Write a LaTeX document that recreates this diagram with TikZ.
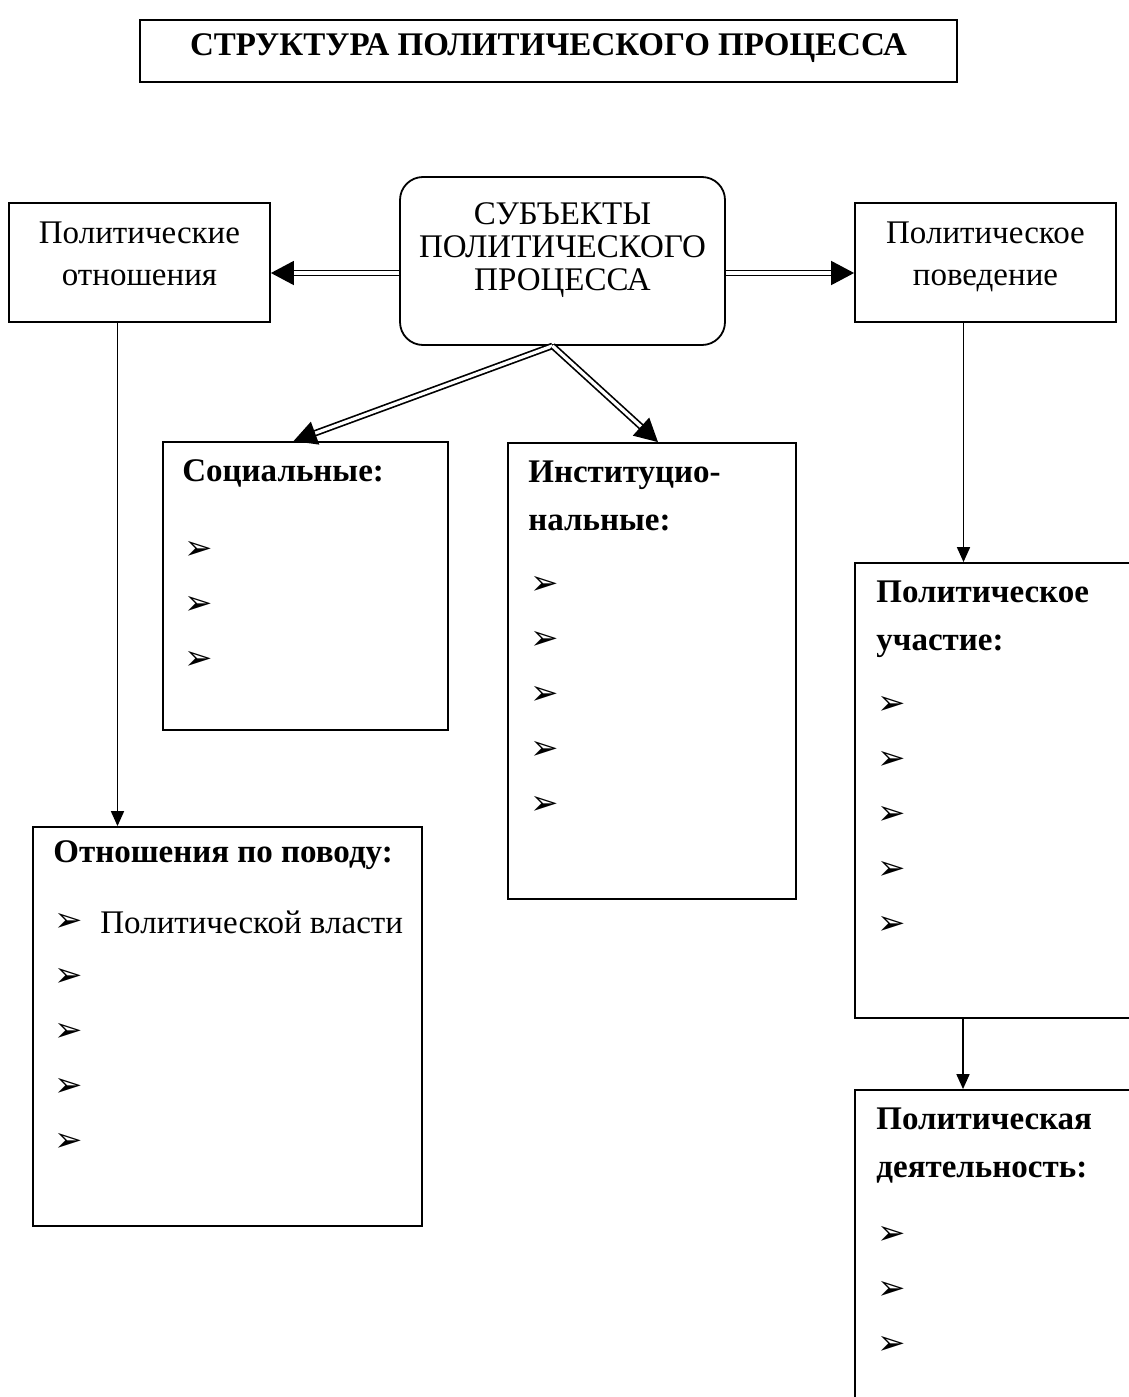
\documentclass[tikz,border=0pt]{standalone}
\usepackage{fontspec}
\setmainfont{Liberation Serif}
\newfontfamily\bulletfont{DejaVu Sans}
\usetikzlibrary{arrows.meta}
\newcommand{\bul}{{\bulletfont\fontsize{17}{17}\selectfont ➢}}

\begin{document}
\begin{tikzpicture}[
  x=0.5pt, y=-0.5pt,
  font=\fontsize{16.5}{21}\selectfont,
  box/.style={draw, line width=0.9pt, inner sep=0pt, align=center},
  head/.style={anchor=west, align=left, inner sep=0pt,
               font=\fontsize{16.5}{24}\selectfont\bfseries},
  item/.style={anchor=west, inner sep=0pt},
  arr/.style={-{Triangle[length=7.5pt, width=6.5pt]}, line width=0.85pt},
  dbl/.style={double, double distance=1.6pt, line width=0.85pt,
              -{Triangle[length=11.5pt, width=12pt]}},
]
\clip (0,0) rectangle (1129,1397);

% ---- title and top row ------------------------------------------
\node[box, minimum width=408.5pt, minimum height=31pt, text depth=6pt,
      font=\fontsize{16.5}{21}\selectfont\bfseries]
  (title) at (548.5,51) {СТРУКТУРА ПОЛИТИЧЕСКОГО ПРОЦЕССА};
\node[box, minimum width=130.5pt, minimum height=59.5pt, text depth=9pt] (rel) at (139.5,262.5) {Политические\\отношения};
\node[box, minimum width=130.5pt, minimum height=59.5pt, text depth=9pt] (beh) at (985.5,262.5) {Политическое\\поведение};
\node[box, rounded corners=11.5pt, minimum width=162.5pt, minimum height=84pt] (subj) at (562.5,261) {};
\node[align=center, inner sep=0pt, font=\fontsize{16.5}{16.5}\selectfont]
  (subjtxt) at (562.5,250) {СУБЪЕКТЫ\\ПОЛИТИЧЕСКОГО\\ПРОЦЕССА};

% ---- lower boxes ------------------------------------------------
\node[box, minimum width=142.5pt, minimum height=144pt] (soc)  at (305.5,586) {};
\node[box, minimum width=144pt,   minimum height=228pt] (inst) at (652,671) {};
\node[box, minimum width=194.5pt, minimum height=199.5pt] (over) at (227.5,1026.5) {};
\node[box, minimum width=145pt,   minimum height=227.5pt] (part) at (1000,790.5) {};
\node[box, minimum width=145pt,   minimum height=165pt] (act)  at (1000,1255) {};

% ---- headings ---------------------------------------------------
\node[head] (sochd)  at (182,473)  {Социальные:};
\node[head] (insthd) at (528,496)  {Институцио-\\нальные:};
\node[head] (overhd) at (53,855)   {Отношения по поводу:};
\node[head] (parthd) at (876,619)  {Политическое\\участие:};
\node[head] (acthd)  at (876,1146) {Политическая\\деятельность:};

% ---- list marks -------------------------------------------------
\node[item] (soc1) at (184,550) {\bul};
\node[item] (soc2) at (184,605) {\bul};
\node[item] (soc3) at (184,660) {\bul};
\node[item] (inst1) at (530,585) {\bul};
\node[item] (inst2) at (530,640) {\bul};
\node[item] (inst3) at (530,695) {\bul};
\node[item] (inst4) at (530,750) {\bul};
\node[item] (inst5) at (530,805) {\bul};
\node[item] (over1) at (54,922)  {\bul};
\node[item] (overtxt) at (100,922) {Политической власти};
\node[item] (over2) at (54,977)  {\bul};
\node[item] (over3) at (54,1032) {\bul};
\node[item] (over4) at (54,1087) {\bul};
\node[item] (over5) at (54,1142) {\bul};
\node[item] (part1) at (877,705) {\bul};
\node[item] (part2) at (877,760) {\bul};
\node[item] (part3) at (877,815) {\bul};
\node[item] (part4) at (877,870) {\bul};
\node[item] (part5) at (877,925) {\bul};
\node[item] (act1) at (877,1235) {\bul};
\node[item] (act2) at (877,1290) {\bul};
\node[item] (act3) at (877,1345) {\bul};

% ---- connectors -------------------------------------------------
\draw[dbl] ([yshift=-6pt]subj.west) -- ([yshift=-6pt]subj.west -| rel.east);
\draw[dbl] ([yshift=-6pt]subj.east) -- ([yshift=-6pt]subj.east -| beh.west);
\draw[dbl] ([xshift=-5pt]subj.south) -- ([xshift=-6pt]soc.north);
\draw[dbl] ([xshift=-5pt]subj.south) -- ([xshift=3pt]inst.north);
\draw[arr] ([xshift=-11pt]rel.south) -- ([xshift=-11pt]rel.south |- over.north);
\draw[arr] ([xshift=-11pt]beh.south) -- ([xshift=-11pt]beh.south |- part.north);
\draw[arr] ([xshift=-18.5pt]part.south) -- ([xshift=-18.5pt]part.south |- act.north);

\end{tikzpicture}
\end{document}
